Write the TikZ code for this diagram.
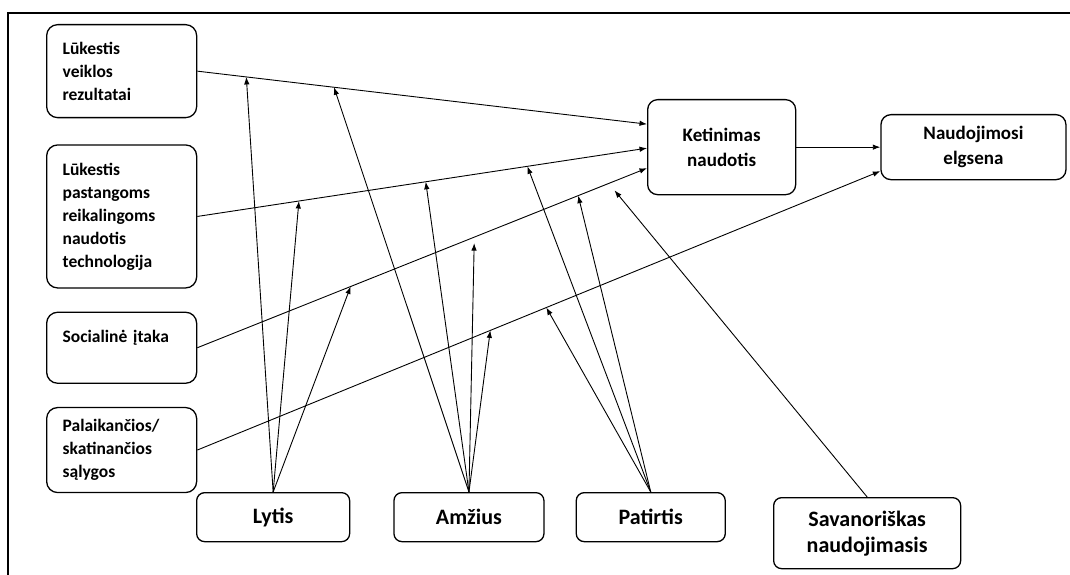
\documentclass[tikz,border=0pt]{standalone}
\usepackage{fontspec}
\setmainfont{Carlito}
\usepackage{tikz}
\usetikzlibrary{shapes,arrows}
\usetikzlibrary{positioning}
\usetikzlibrary{calc}
\usetikzlibrary{arrows.meta}
\tikzset{>=stealth}
\tikzstyle{line} = [draw, -{Latex[length=7.5pt, width=5.5pt]}, line width=0.9pt]
\tikzstyle{factor} = [draw, rounded corners=11pt, line width=1.3pt, text width=118pt, inner xsep=16pt, inner ysep=0pt, align=left, font=\bfseries\fontsize{17.5}{23}\selectfont]
\tikzstyle{outcome} = [draw, rounded corners=10pt, line width=1.3pt, align=center, inner sep=0pt, font=\bfseries\fontsize{19}{25}\selectfont]
\tikzstyle{moderator} = [draw, rounded corners=8pt, line width=1.3pt, align=center, inner sep=0pt, minimum height=49pt, font=\bfseries\fontsize{22}{26}\selectfont]

\begin{document}
\begin{tikzpicture}[x=1pt, y=-1pt]
    \useasboundingbox (0,0) rectangle (1070,575);
    \draw [line width=2.5pt] (8,575) -- (8,13) -- (1070,13);
    %% Constructs
    \node [factor, anchor=north west, minimum height=93pt] (PE) at (46,24) {Lūkestis\\ veiklos\\ rezultatai};
    \node [factor, below=26pt of PE, minimum height=143pt] (EE) {Lūkestis\\ pastangoms\\ reikalingoms\\ naudotis\\ technologija};
    \node [factor, below=23pt of EE, minimum height=71pt] (SI) {Socialinė įtaka\\ ~};
    \node [factor, below=23pt of SI, minimum height=85pt] (FC) {Palaikančios/\\ skatinančios\\ sąlygos};
    \node [outcome, anchor=north west, minimum width=148pt, minimum height=95pt] (BI) at (647,99) {Ketinimas\\ naudotis};
    \node [outcome, right=84pt of BI, minimum width=185pt, minimum height=65pt] (UB) {Naudojimosi\\ elgsena};
    %% Moderators
    \node [moderator, anchor=north west, minimum width=153pt] (G) at (196,492) {Lytis};
    \node [moderator, right=43pt of G, minimum width=150pt] (A) {Amžius};
    \node [moderator, right=31pt of A, minimum width=149pt] (X) {Patirtis};
    \node [moderator, anchor=north west, minimum width=187pt, minimum height=71pt] (V) at (773,497) {Savanoriškas\\ naudojimasis};
    %% Flows
    \path [line] (PE.east) -- ([yshift=23pt]BI.west) coordinate[pos=0.109] (PE1) coordinate[pos=0.304] (PE2);
    \path [line] (EE.east) -- ([yshift=-1pt]BI.west) coordinate[pos=0.226] (EE1) coordinate[pos=0.508] (EE2) coordinate[pos=0.734] (EE3);
    \path [line] (SI.east) -- ([yshift=-21pt]BI.west) coordinate[pos=0.341] (SI1) coordinate[pos=0.616] (SI2) coordinate[pos=0.847] (SI3) coordinate[pos=0.915] (SI4);
    \path [line] (FC.east) -- ([yshift=-24pt]UB.west) coordinate[pos=0.429] (FC1) coordinate[pos=0.511] (FC2);
    \path [line] (BI.east) -- (BI.east -| UB.west);
    %% Moderating effects
    \path [line] (G.north) -- (PE1);
    \path [line] (G.north) -- (EE1);
    \path [line] (G.north) -- (SI1);
    \path [line] (A.north) -- (PE2);
    \path [line] (A.north) -- (EE2);
    \path [line, shorten >=6pt] (A.north) -- (SI2);
    \path [line] (A.north) -- (FC1);
    \path [line] (X.north) -- (EE3);
    \path [line] (X.north) -- (SI3);
    \path [line] (X.north) -- (FC2);
    \path [line, shorten >=9pt] (V.north) -- (SI4);
\end{tikzpicture}
\end{document}
